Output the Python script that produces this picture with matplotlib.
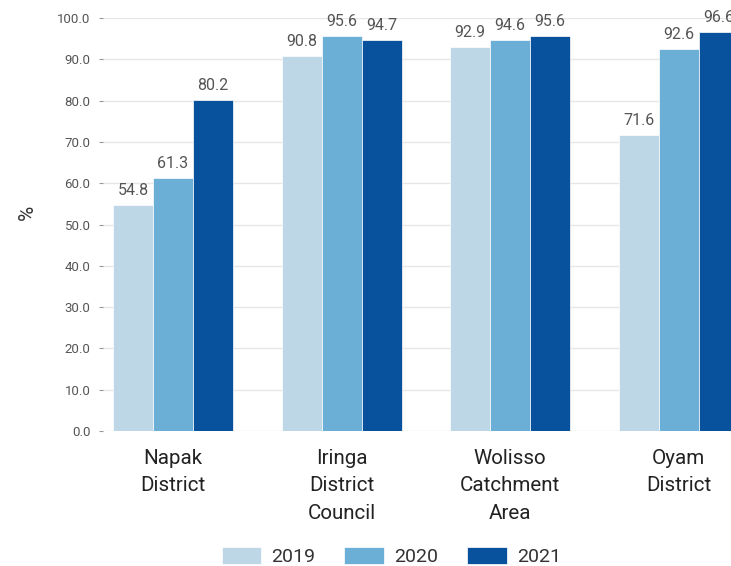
import numpy as np
import matplotlib.pyplot as plt

plt.rcParams["font.family"] = ["Roboto", "DejaVu Sans"]

categories = ["Napak\nDistrict", "Iringa\nDistrict\nCouncil", "Wolisso\nCatchment\nArea", "Oyam\nDistrict"]
years = ["2019", "2020", "2021"]
v2019 = [54.8, 90.8, 92.9, 71.6]
v2020 = [61.3, 95.6, 94.6, 92.6]
v2021 = [80.2, 94.7, 95.6, 96.6]
colors = ["#bdd7e7", "#6baed6", "#08519c"]


def plot_data() -> None:
    fig = plt.figure(figsize=(7.31, 5.66), dpi=100)
    ax = fig.add_axes([0.141, 0.2385, 0.859, 0.7295])
    x = np.arange(len(categories))
    width = 0.237
    for i, (vals, yr) in enumerate(zip([v2019, v2020, v2021], years)):
        bars = ax.bar(x + (i - 1) * width, vals, width, color=colors[i],
                      label=yr, edgecolor="white", linewidth=0.5, zorder=3)
        ax.bar_label(bars, labels=[f"{v:.1f}" for v in vals], padding=5,
                     fontsize=11.5, color="#555555")
    ax.set_xlim(-0.415, 3.31)
    ax.set_ylim(0, 100)
    ax.set_yticks(np.arange(0, 101, 10))
    ax.set_yticklabels([f"{t:.1f}" for t in np.arange(0, 101, 10)])
    ax.set_xticks(x)
    ax.set_xticklabels(categories, fontsize=14.8, color="#222222", linespacing=1.55, va="top")
    ax.tick_params(axis="x", length=0, pad=13)
    ax.tick_params(axis="y", length=3, color="#999999", labelsize=9.5, labelcolor="#555555", pad=6)
    ax.grid(axis="y", color="#e6e6e6", linewidth=1, zorder=0)
    for s in ax.spines.values():
        s.set_visible(False)
    ax.set_ylabel("%", fontsize=15, color="#333333")
    ax.yaxis.set_label_coords(-0.105, 0.53)
    fig.legend(loc="center", bbox_to_anchor=(0.535, 0.017), ncol=3, frameon=False,
               fontsize=14, handlelength=2.05, handleheight=0.95, columnspacing=1.5,
               handletextpad=0.5, labelcolor="#333333")
    fig.savefig("out.png", dpi=100)


if __name__ == "__main__":
    plot_data()
